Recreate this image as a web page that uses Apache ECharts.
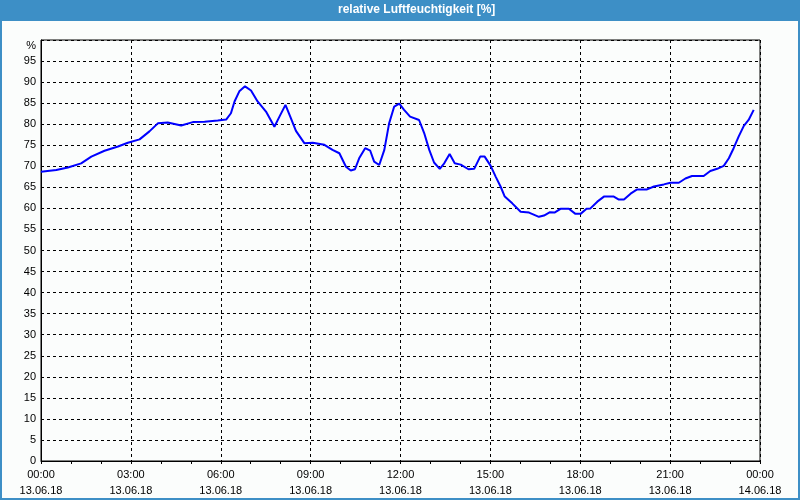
<!DOCTYPE html>
<html>
<head>
<meta charset="utf-8">
<script src="https://cdn.jsdelivr.net/npm/echarts@6/dist/echarts.min.js"></script>
<style>
html,body{margin:0;padding:0;background:#fff;}
#chart{width:800px;height:500px;}
</style>
</head>
<body>
<div id="chart"></div>
<script>
// Time of day in hours (13.06.18 00:00 = 0)
const hours = [0, 0.51, 0.9, 1.34, 1.68, 2.12, 2.57, 2.9, 3.29, 3.62, 3.9, 4.23, 4.68, 5.07, 5.46, 5.9, 6.18, 6.34, 6.46, 6.62, 6.81, 7.01, 7.23, 7.51, 7.79, 7.96, 8.16, 8.32, 8.51, 8.79, 9.07, 9.46, 9.73, 9.96, 10.18, 10.34, 10.48, 10.62, 10.82, 10.99, 11.12, 11.29, 11.46, 11.62, 11.79, 11.96, 12.12, 12.32, 12.62, 12.79, 12.96, 13.12, 13.31, 13.46, 13.64, 13.81, 14.01, 14.27, 14.46, 14.66, 14.81, 15.01, 15.18, 15.34, 15.48, 15.73, 16.01, 16.29, 16.62, 16.79, 16.99, 17.14, 17.34, 17.62, 17.84, 18.01, 18.21, 18.34, 18.57, 18.79, 19.12, 19.29, 19.46, 19.68, 19.9, 20.23, 20.46, 20.79, 21.01, 21.29, 21.51, 21.73, 22.12, 22.34, 22.57, 22.79, 22.96, 23.12, 23.29, 23.46, 23.62, 23.79];
// Relative humidity in %
const humidity = [68.7, 69.1, 69.7, 70.7, 72.3, 73.7, 74.7, 75.6, 76.4, 78.3, 80.2, 80.4, 79.7, 80.5, 80.6, 80.9, 81.1, 82.6, 85.4, 87.8, 89.0, 88.0, 85.4, 83.0, 79.4, 81.8, 84.6, 81.8, 78.4, 75.5, 75.6, 75.1, 73.9, 73.1, 69.9, 69.0, 69.3, 71.9, 74.3, 73.7, 71.1, 70.3, 73.9, 80.2, 84.2, 84.9, 83.4, 81.8, 81.0, 77.9, 73.9, 70.9, 69.4, 70.7, 72.9, 70.7, 70.4, 69.3, 69.4, 72.3, 72.3, 70.1, 67.5, 65.2, 62.8, 61.2, 59.2, 59.0, 58.0, 58.3, 59.1, 59.0, 59.9, 59.9, 58.7, 58.7, 59.9, 60.0, 61.6, 62.8, 62.8, 62.1, 62.1, 63.5, 64.5, 64.5, 65.2, 65.7, 66.1, 66.1, 67.1, 67.7, 67.7, 68.9, 69.4, 70.1, 71.9, 74.3, 77.1, 79.6, 81.0, 83.4];
// X tick labels every 3 hours
const xTickLabels = ["00:00\n13.06.18", "03:00\n13.06.18", "06:00\n13.06.18", "09:00\n13.06.18", "12:00\n13.06.18", "15:00\n13.06.18", "18:00\n13.06.18", "21:00\n13.06.18", "00:00\n14.06.18"];
const titleText = "relative Luftfeuchtigkeit [%]";

const chart = echarts.init(document.getElementById('chart'), null, {renderer: 'canvas'});
const font = 'Liberation Sans, Arial, sans-serif';
chart.setOption({
  animation: false,
  backgroundColor: '#3d8fc6',
  graphic: [
    {type: 'rect', z: -10, shape: {x: 2, y: 21, width: 796, height: 477}, style: {fill: '#fbfdfc'}},
    {type: 'text', z: 10, left: 338, top: 4, style: {text: titleText, fill: '#ffffff', font: 'bold 12px ' + font}}
  ],
  grid: {left: 41, top: 40, right: 40, bottom: 39, show: true, borderColor: '#000', borderWidth: 1, backgroundColor: 'transparent'},
  xAxis: {
    type: 'value', min: 0, max: 24, interval: 3,
    axisLine: {show: true, lineStyle: {color: '#000', width: 1}},
    axisTick: {show: true, inside: false, length: 3, lineStyle: {color: '#000'}},
    minorTick: {show: true, splitNumber: 3, length: 3, lineStyle: {color: '#000'}},
    splitLine: {show: true, lineStyle: {color: '#000', type: [3, 3], width: 1}},
    axisLabel: {
      color: '#000', fontSize: 11, fontFamily: font, lineHeight: 16, margin: 6,
      formatter: v => xTickLabels[Math.round(v / 3)]
    }
  },
  yAxis: {
    type: 'value', min: 0, max: 100, interval: 5,
    axisLine: {show: true, lineStyle: {color: '#000', width: 1}},
    axisTick: {show: false},
    splitLine: {show: true, lineStyle: {color: '#000', type: [3, 3], width: 1}},
    axisLabel: {
      color: '#000', fontSize: 11, fontFamily: font, margin: 5,
      formatter: v => v === 100 ? '{pct|%}' : String(v),
      rich: {pct: {fontSize: 11, fontFamily: font, color: '#000', padding: [12, 0, 0, 0]}}
    }
  },
  series: [{
    type: 'line',
    data: hours.map((h, i) => [h, humidity[i]]),
    showSymbol: false,
    lineStyle: {color: '#0000ff', width: 2},
    itemStyle: {color: '#0000ff'}
  }]
});
</script>
</body>
</html>
